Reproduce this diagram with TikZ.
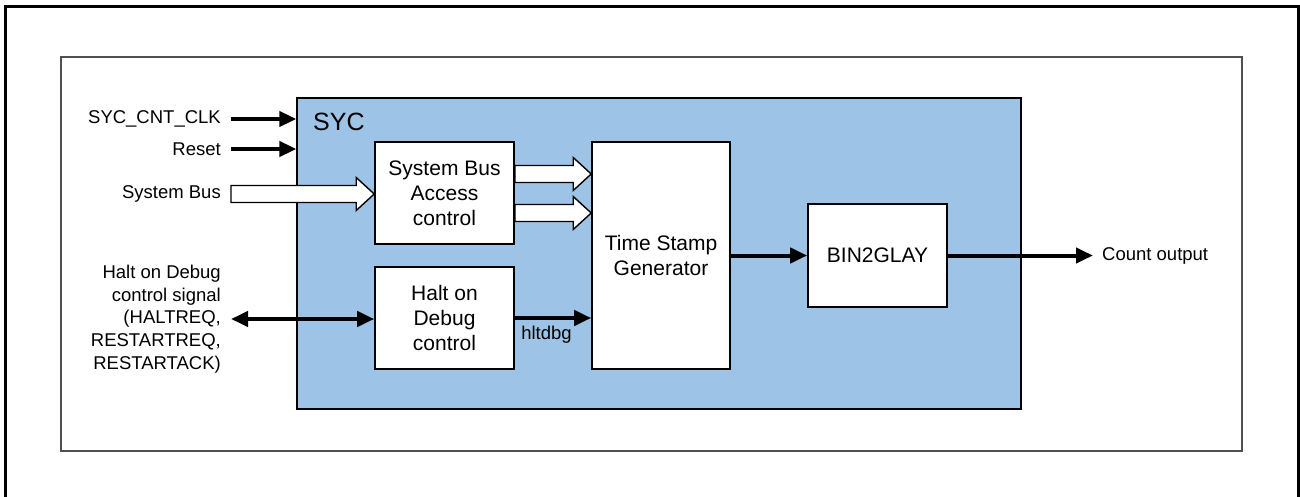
\documentclass[tikz,border=0pt]{standalone}
\usepackage{fontspec}
\setmainfont{Liberation Sans}
\usetikzlibrary{arrows.meta,calc}
\definecolor{Csyc}{HTML}{9DC3E6}
\definecolor{Cframe}{HTML}{505050}

\tikzset{
	blockbox/.style={draw, fill=white, line width=1.6pt, align=center,
		font=\fontsize{21}{25}\selectfont},
	sigline/.style={line width=4pt, -{Triangle[length=17pt,width=15pt]}},
	biline/.style={line width=4pt, {Triangle[length=17pt,width=15pt]}-{Triangle[length=17pt,width=15pt]}},
	buslnk/.style={draw, fill=white, line width=1.4pt, line join=miter},
	siglabel/.style={inner sep=0pt, font=\fontsize{18.5}{22.7}\selectfont},
}

%% hollow bus arrow between two points (same height)
\newcommand{\busarrow}[2]{%
	\path[buslnk] let \p1=(#1), \p2=(#2) in
	(\x1,\y1+8.5pt) -- (\x2-18pt,\y1+8.5pt) -- (\x2-18pt,\y1+16.5pt) --
	(\x2,\y1) -- (\x2-18pt,\y1-16.5pt) -- (\x2-18pt,\y1-8.5pt) --
	(\x1,\y1-8.5pt) -- cycle;}

\begin{document}
\begin{tikzpicture}[x=1pt, y=-1pt]
		
		\useasboundingbox (0,0) rectangle (1300,497);
		
		%% outer frame (open at the bottom) and inner frame
		\draw[line width=3pt] (5,497) -- (5,7) -- (1298,7) -- (1298,497);
		\draw[Cframe, line width=1.8pt] (61,57) rectangle (1242,451);
		
		%% SYC block
		\node[draw, fill=Csyc, line width=1.3pt, minimum width=724pt,
		minimum height=311pt, inner sep=0pt] (syc) at (659,253.5) {};
		\node[anchor=base west, inner sep=0pt, font=\fontsize{25}{30}\selectfont]
		(syclbl) at (313,131) {SYC};
		
		%% inner blocks
		\node[blockbox, minimum width=139pt, minimum height=102pt] (sba) at (444.5,193)
		{System Bus\\Access\\control};
		\node[blockbox, minimum width=139pt, minimum height=102pt] (hod) at (444.5,318)
		{Halt on\\Debug\\control};
		\node[blockbox, minimum width=138pt, minimum height=227pt] (tsg) at (661,255.5)
		{Time Stamp\\Generator};
		\node[blockbox, minimum width=139pt, minimum height=103pt] (b2g) at (877.5,255.5)
		{BIN2GLAY};
		
		%% ── input signals ─────────────────────────────────────────
		\node[siglabel, anchor=east] (clk) at (221,119) {SYC\_CNT\_CLK};
		\node[siglabel, anchor=east] (rst) at (221,149) {Reset};
		\node[siglabel, anchor=east] (sbus) at (221,194) {System Bus};
		\node[siglabel, anchor=east, align=right] (haltsig) at (221,319)
		{Halt on Debug\\control signal\\(HALTREQ,\\RESTARTREQ,\\RESTARTACK)};
		
		\draw[sigline, shorten <=10pt] (clk.east) -- (syc.west |- clk.east);
		\draw[sigline, shorten <=10pt] (rst.east) -- (syc.west |- rst.east);
		\busarrow{$(sbus.east)+(10pt,0)$}{sba.west |- sbus.east}
		\draw[biline, shorten <=10pt] (haltsig.east) -- (hod.west |- haltsig.east);
		
		%% ── internal connections ─────────────────────────────────
		\busarrow{$(sba.east)+(0,19pt)$}{$(tsg.west |- sba.east)+(0,19pt)$}
		\busarrow{$(sba.east)+(0,-20pt)$}{$(tsg.west |- sba.east)+(0,-20pt)$}
		\draw[sigline] (hod.east) -- (tsg.west |- hod.east);
		\node[siglabel] (hltlbl) at (546.5,335) {hltdbg};
		\draw[sigline] (tsg.east) -- (b2g.west);
		
		%% ── output ───────────────────────────────────────────────
		\node[siglabel, anchor=west] (cntlbl) at (1102,256) {Count output};
		\coordinate (cnt) at (1093,255.5);
		\draw[sigline] (b2g.east) -- (cnt);
		
	\end{tikzpicture}
\end{document}
